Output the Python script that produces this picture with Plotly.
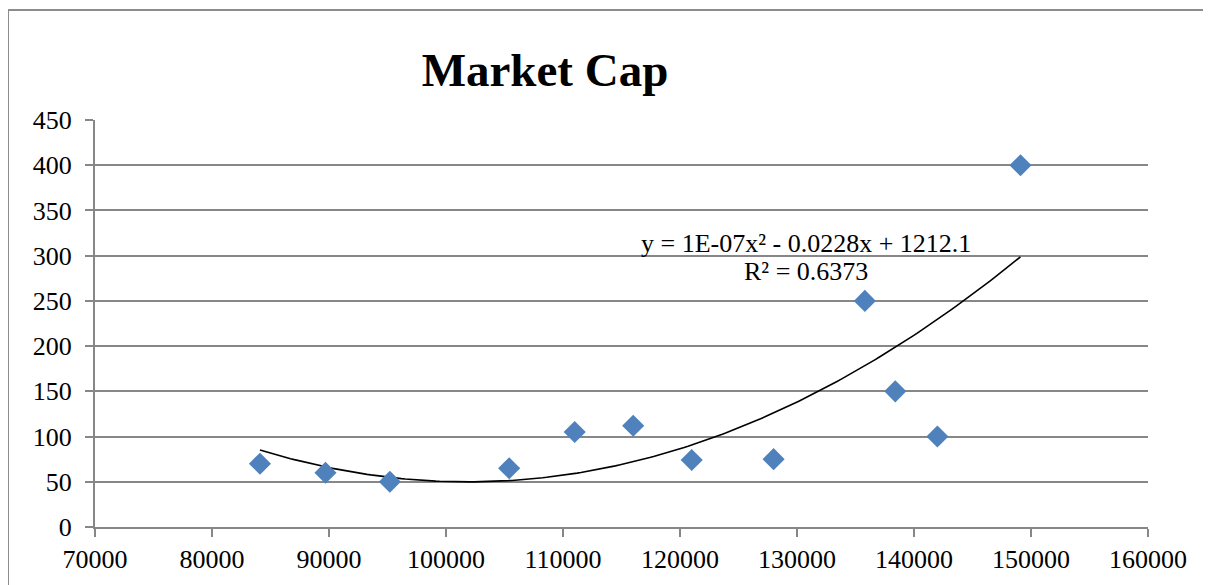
import numpy as np
import plotly.graph_objects as go

# Data
salary = [84100, 89700, 95200, 105400, 111000, 116000, 121000, 128000, 135800, 138400, 142000, 149100]
market_cap = [70, 60, 50, 65, 105, 112, 74, 75, 250, 150, 100, 400]

x_ticks = [70000, 80000, 90000, 100000, 110000, 120000, 130000, 140000, 150000, 160000]
y_ticks = [0, 50, 100, 150, 200, 250, 300, 350, 400, 450]

title_text = "Market Cap"
eq_text = "y = 1E-07x² - 0.0228x + 1212.1"
r2_text = "R² = 0.6373"

# Polynomial (order 2) trendline fitted to the data
coef = np.polyfit(salary, market_cap, 2)
tx = np.linspace(min(salary), max(salary), 200)
ty = np.polyval(coef, tx)

GRID = "#878787"
FONT = "Liberation Serif"
OFF = 8  # page offset of the figure in the browser

fig = go.Figure()
fig.add_trace(go.Scatter(
    x=tx, y=ty, mode="lines",
    line=dict(color="black", width=1.6),
    hoverinfo="skip", showlegend=False,
))
fig.add_trace(go.Scatter(
    x=salary, y=market_cap, mode="markers",
    marker=dict(symbol="diamond", size=17, color="#4F81BD",
                line=dict(width=0)),
    showlegend=False,
))

fig.update_layout(
    width=1211 - OFF, height=585 - OFF,
    margin=dict(l=95 - OFF, r=63, t=120 - OFF, b=58, pad=0),
    paper_bgcolor="white", plot_bgcolor="white",
    font=dict(family=FONT, size=26, color="black"),
    title=dict(text="<b>" + title_text + "</b>",
               font=dict(family=FONT, size=47, color="black"),
               x=(545 - 95) / 1053, xref="paper", xanchor="center",
               y=1 - (70 - OFF) / (585 - OFF), yref="container", yanchor="middle"),
    xaxis=dict(range=[70000, 160000], tickvals=x_ticks,
               ticktext=[str(v) for v in x_ticks],
               showgrid=False, zeroline=False,
               showline=True, linecolor=GRID, linewidth=2,
               ticks="outside", ticklen=8, tickwidth=2, tickcolor=GRID,
               tickfont=dict(family=FONT, size=26)),
    yaxis=dict(range=[0, 450], tickvals=y_ticks,
               showgrid=True, gridcolor=GRID, gridwidth=2,
               zeroline=False,
               showline=True, linecolor=GRID, linewidth=2,
               ticks="outside", ticklen=8, tickwidth=2, tickcolor=GRID,
               ticklabelstandoff=8,
               tickfont=dict(family=FONT, size=26)),
)

# Chart frame (left and top edges visible in the reference)
fig.add_shape(type="line", xref="paper", yref="paper",
              x0=(8 - 95) / 1053, x1=(8 - 95) / 1053,
              y0=(527 - 590) / 407, y1=(527 - 10) / 407,
              line=dict(color="#8c8c8c", width=2))
fig.add_shape(type="line", xref="paper", yref="paper",
              x0=(8 - 95) / 1053, x1=(1215 - 95) / 1053,
              y0=(527 - 10) / 407, y1=(527 - 10) / 407,
              line=dict(color="#8c8c8c", width=2))

fig.add_annotation(text=eq_text, xref="paper", yref="paper",
                   x=(806 - 95) / 1053, y=(527 - 243) / 407,
                   xanchor="center", yanchor="middle", showarrow=False,
                   font=dict(family=FONT, size=26, color="black"))
fig.add_annotation(text=r2_text, xref="paper", yref="paper",
                   x=(806 - 95) / 1053, y=(527 - 271) / 407,
                   xanchor="center", yanchor="middle", showarrow=False,
                   font=dict(family=FONT, size=26, color="black"))

fig.write_html("out.html")
